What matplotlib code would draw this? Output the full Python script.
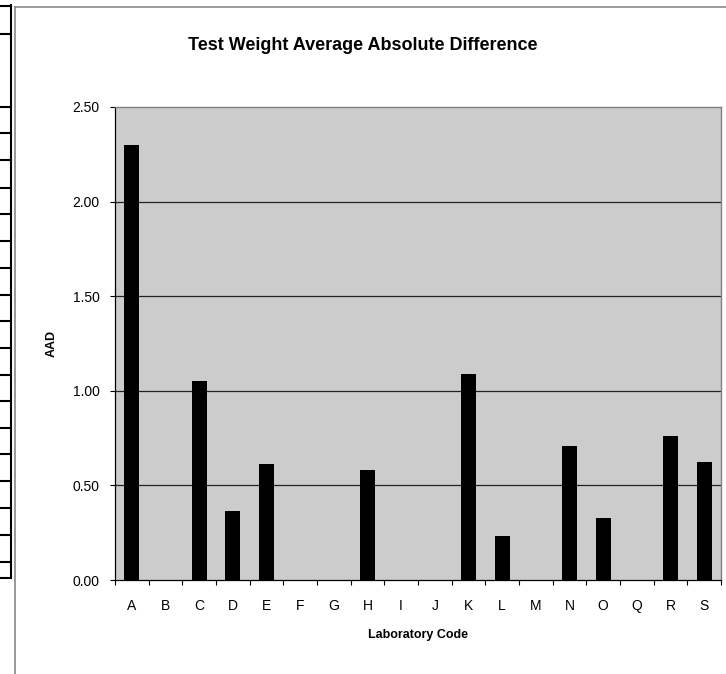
import numpy as np
import matplotlib.pyplot as plt
from matplotlib.lines import Line2D

plt.rcParams['font.family'] = ['Liberation Sans', 'DejaVu Sans']

labs = ['A', 'B', 'C', 'D', 'E', 'F', 'G', 'H', 'I', 'J', 'K', 'L', 'M', 'N', 'O', 'Q', 'R', 'S']
aad = [2.30, 0, 1.05, 0.365, 0.615, 0, 0, 0.58, 0, 0, 1.09, 0.23, 0, 0.71, 0.33, 0, 0.76, 0.625]
yticks = [0.0, 0.5, 1.0, 1.5, 2.0, 2.5]

W, H = 726, 674
fig = plt.figure(figsize=(W / 100, H / 100), dpi=100)
fig.patch.set_facecolor('white')


def px(x, y):
    # pixel coords -> figure fraction
    return x / W, 1 - y / H


def seg(x0, y0, x1, y1, **kw):
    a, b = px(x0, y0)
    c, d = px(x1, y1)
    fig.add_artist(Line2D([a, c], [b, d], **kw))


# leftover bits of the sheet around the chart
seg(11, 5, 11, 578, color='black', lw=1.5)
for yy in [6, 34, 107, 133, 160, 188, 214, 241, 268, 295, 321, 348, 375, 401, 428, 454, 481, 508, 535, 562, 578]:
    seg(0, yy, 11, yy, color='black', lw=1.5)
# chart area border
seg(14.5, 7, 14.5, H, color='#888888', lw=1.2)
seg(14.5, 7, W, 7, color='#888888', lw=1.2)

left, right, top, bottom = 115, 721, 107, 580
ax = fig.add_axes([left / W, 1 - bottom / H, (right - left) / W, (bottom - top) / H])
ax.set_facecolor('#cccccc')

x = np.arange(len(labs))
ax.bar(x, aad, width=0.45, color='black', zorder=3)

ax.set_xlim(-0.5, len(labs) - 0.5)
ax.set_ylim(0, 2.5)
ax.set_yticks(yticks)
ax.set_yticklabels([f'{v:.2f}' for v in yticks], fontsize=10)
for v in yticks[1:-1]:
    ax.axhline(v, color='#222222', lw=0.9, zorder=2)

ax.set_xticks(x)
ax.set_xticklabels(labs, fontsize=10)
ax.set_xticks(np.arange(len(labs) + 1) - 0.5, minor=True)
ax.tick_params(axis='x', which='major', length=0, pad=14)
ax.tick_params(axis='x', which='minor', length=3.6, direction='out', width=0.8)
ax.tick_params(axis='y', length=3.6, direction='out', width=0.8, pad=7.5)

for s in ['top', 'right']:
    ax.spines[s].set_color('#808080')
    ax.spines[s].set_linewidth(1.0)
for s in ['left', 'bottom']:
    ax.spines[s].set_color('black')
    ax.spines[s].set_linewidth(0.9)

ax.set_xlabel('Laboratory Code', fontsize=9, fontweight='bold', labelpad=11)
ax.set_ylabel('AAD', fontsize=9, fontweight='bold', labelpad=10.5)

tx, ty = px(363, 50.5)
fig.text(tx, ty, 'Test Weight Average Absolute Difference', fontsize=13,
         fontweight='bold', ha='center', va='baseline')

fig.savefig('out.png', dpi=100)
